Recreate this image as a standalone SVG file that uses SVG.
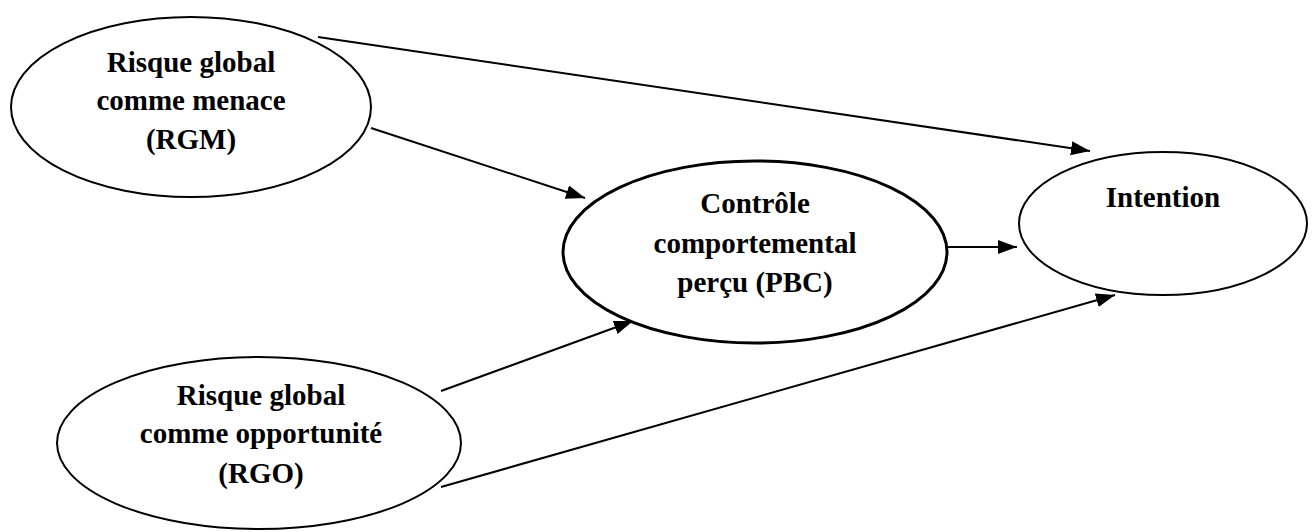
<svg xmlns="http://www.w3.org/2000/svg" width="1316" height="532" viewBox="0 0 1316 532">
<style>
.node ellipse{fill:#fff;stroke:#000;stroke-width:2}
.node.thick ellipse{stroke-width:3}
.node text{font-weight:bold;font-size:29px;fill:#000;text-anchor:middle}
.edge{stroke:#000;stroke-width:2;fill:none;marker-end:url(#arr)}
</style>
<defs>
<marker id="arr" markerUnits="userSpaceOnUse" markerWidth="22" markerHeight="16" refX="19" refY="7" orient="auto">
<path d="M0,0 L19,7 L0,14 Z" fill="#000"/>
</marker>
</defs>
<rect width="1316" height="532" fill="#fff"/>
<g id="connectors">
<line class="edge" x1="318" y1="37" x2="1090" y2="151"/>
<line class="edge" x1="371" y1="128" x2="585" y2="198"/>
<line class="edge" x1="947" y1="247" x2="1017" y2="247"/>
<line class="edge" x1="441" y1="391" x2="633" y2="321"/>
<line class="edge" x1="441" y1="487" x2="1115" y2="295"/>
</g>
<g font-family="Liberation Serif, Times New Roman, DejaVu Serif, serif">
<g id="RGM" class="node">
<ellipse cx="191" cy="107" rx="180" ry="90"/>
<text x="191" y="72">Risque global</text>
<text x="191" y="110">comme menace</text>
<text x="191" y="149">(RGM)</text>
</g>
<g id="PBC" class="node thick">
<ellipse cx="755" cy="252" rx="192" ry="91"/>
<text x="755" y="213">Contrôle</text>
<text x="755" y="253">comportemental</text>
<text x="755" y="292">perçu (PBC)</text>
</g>
<g id="Intention" class="node">
<ellipse cx="1163" cy="223.5" rx="144" ry="71.5"/>
<text x="1163" y="207">Intention</text>
</g>
<g id="RGO" class="node">
<ellipse cx="259" cy="443" rx="202" ry="86"/>
<text x="261" y="405">Risque global</text>
<text x="261" y="443">comme opportunité</text>
<text x="261" y="483">(RGO)</text>
</g>
</g>
</svg>
